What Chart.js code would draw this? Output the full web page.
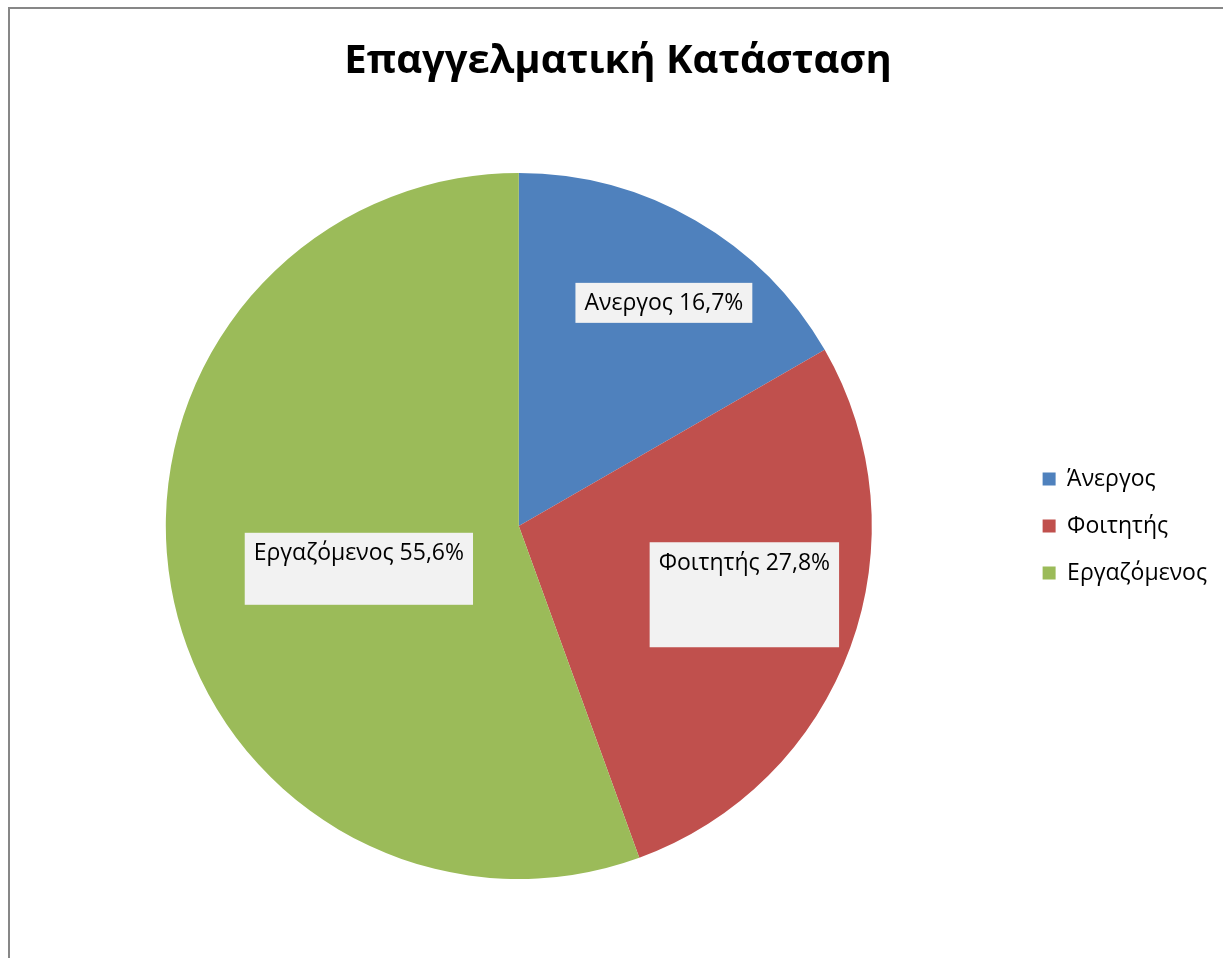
<!DOCTYPE html>
<html>
<head>
<meta charset="utf-8">
<script src="https://cdn.jsdelivr.net/npm/chart.js@4"></script>
<style>
  body { margin: 0; background: #fff; }
  #wrap { width: 1223px; height: 958px; }
</style>
</head>
<body>
<div id="wrap"><canvas id="myChart" width="1223" height="958"></canvas></div>
<script>
// employment status shares (%)
const labels = ['Άνεργος', 'Φοιτητής', 'Εργαζόμενος'];
const sliceLabels = ['Ανεργος', 'Φοιτητής', 'Εργαζόμενος'];
const values = [16.7, 27.8, 55.6];
const colors = ['#4F81BD', '#C0504D', '#9BBB59'];

// where each value box sits: fraction of radius along the slice middle, angle nudge (deg), box height
const boxPlacement = [
  { f: 0.754, turn: 3.0, h: 40 },
  { f: 0.668, turn: -3.1, h: 105 },
  { f: 0.469, turn: -5.0, h: 72 }
];

const fontFamily = '"Open Sans", "Noto Sans", sans-serif';

// grey frame of the chart object
const frame = {
  id: 'frame',
  beforeDraw(chart) {
    const ctx = chart.ctx;
    ctx.save();
    ctx.strokeStyle = '#878787';
    ctx.lineWidth = 2;
    ctx.strokeRect(9, 8, chart.width + 20, chart.height + 20);
    ctx.restore();
  }
};

// value boxes drawn on top of the slices
const valueBoxes = {
  id: 'valueBoxes',
  afterDatasetsDraw(chart) {
    const ctx = chart.ctx;
    const meta = chart.getDatasetMeta(0);
    ctx.save();
    ctx.font = '23px ' + fontFamily;
    meta.data.forEach(function(arc, i) {
      const p = arc.getProps(['x', 'y', 'startAngle', 'endAngle', 'outerRadius'], true);
      const place = boxPlacement[i];
      const mid = (p.startAngle + p.endAngle) / 2 + place.turn * Math.PI / 180;
      const cx = p.x + Math.cos(mid) * p.outerRadius * place.f;
      const cy = p.y + Math.sin(mid) * p.outerRadius * place.f;
      const text = sliceLabels[i] + ' ' + values[i].toFixed(1).replace('.', ',') + '%';
      const w = ctx.measureText(text).width + 18;
      const left = cx - w / 2;
      const top = cy - place.h / 2;
      ctx.fillStyle = '#F2F2F2';
      ctx.fillRect(left, top, w, place.h);
      ctx.fillStyle = '#000';
      ctx.textAlign = 'center';
      ctx.textBaseline = 'middle';
      ctx.fillText(text, cx, top + 21);
    });
    ctx.restore();
  }
};

const data = {
  labels: labels,
  datasets: [{
    data: values,
    backgroundColor: colors,
    borderWidth: 0
  }]
};

const config = {
  type: 'pie',
  data: data,
  options: {
    responsive: false,
    animation: false,
    layout: { padding: { left: 19, right: 6, top: 10, bottom: 79 } },
    plugins: {
      title: {
        display: true,
        text: 'Επαγγελματική Κατάσταση',
        color: '#000',
        font: { family: fontFamily, size: 40, weight: 'bold' },
        padding: { top: 28, bottom: 87 }
      },
      legend: {
        position: 'right',
        fullSize: false,
        labels: {
          color: '#000',
          boxWidth: 13,
          boxHeight: 13,
          padding: 24,
          font: { family: fontFamily, size: 23 }
        }
      },
      tooltip: { enabled: false }
    }
  },
  plugins: [frame, valueBoxes]
};

const myChart = new Chart(document.getElementById('myChart'), config);
</script>
</body>
</html>
